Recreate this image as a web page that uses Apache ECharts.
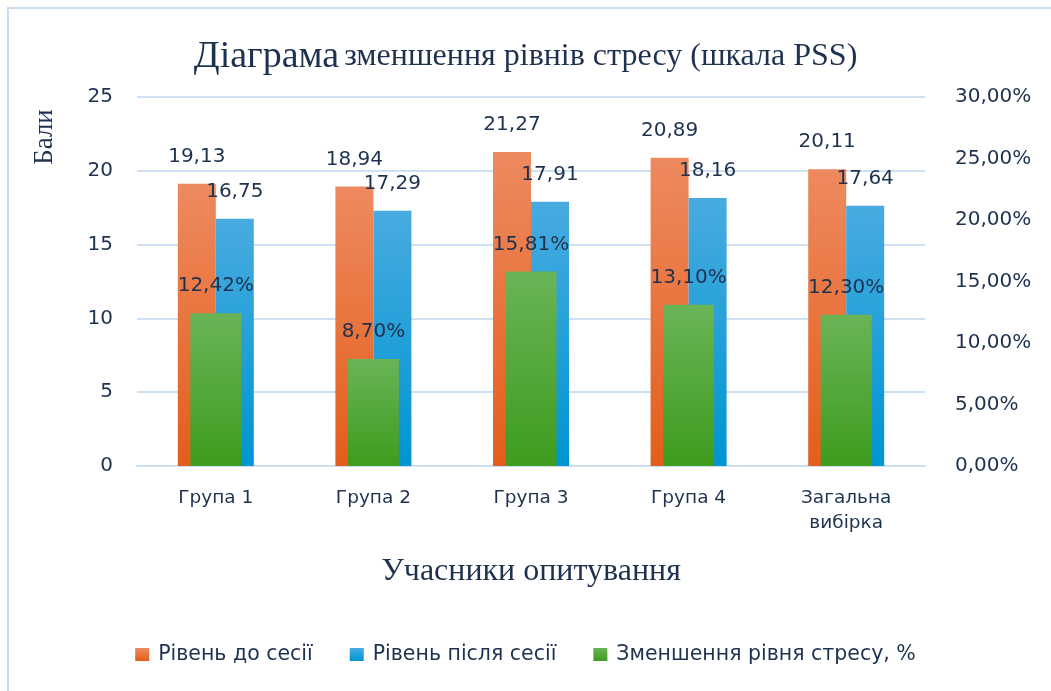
<!DOCTYPE html>
<html>
<head>
<meta charset="utf-8">
<script src="https://cdn.jsdelivr.net/npm/echarts@6/dist/echarts.min.js"></script>
<style>
  html, body { margin: 0; padding: 0; background: #fff; }
  #chart { width: 1051px; height: 691px; }
</style>
</head>
<body>
<div id="chart"></div>
<script>
const categories = ['Група 1', 'Група 2', 'Група 3', 'Група 4', 'Загальна\nвибірка'];
const before = [19.13, 18.94, 21.27, 20.89, 20.11];
const after = [16.75, 17.29, 17.91, 18.16, 17.64];
const reduction = [12.42, 8.70, 15.81, 13.10, 12.30];

const ink = '#1e3250';
const gridColor = '#cfe0f3';
const sans = 'DejaVu Sans';
const serif = 'Liberation Serif';

function grad(top, bottom) {
  return new echarts.graphic.LinearGradient(0, 0, 0, 1, [
    { offset: 0, color: top },
    { offset: 1, color: bottom }
  ]);
}

function comma(v) {
  return v.toFixed(2).replace('.', ',');
}

const chart = echarts.init(document.getElementById('chart'));

const labelStyle = {
  show: true,
  position: 'top',
  distance: 17,
  color: ink,
  fontFamily: sans,
  fontSize: 20
};

const option = {
  animation: false,
  title: {
    text: '{big|Діаграма} {rest|зменшення рівнів стресу (шкала PSS)}',
    left: 'center',
    top: 33,
    textStyle: {
      fontWeight: 'normal',
      rich: {
        big: { fontFamily: serif, fontSize: 38, fontWeight: 'normal', color: ink },
        rest: { fontFamily: serif, fontSize: 32, fontWeight: 'normal', color: ink }
      }
    }
  },
  graphic: [
    {
      type: 'rect',
      shape: { x: 8, y: 8, width: 1060, height: 700 },
      style: { fill: 'none', stroke: '#c9dcf1', lineWidth: 2 }
    },
    {
      type: 'text',
      x: 45,
      y: 137,
      rotation: Math.PI / 2,
      style: {
        text: 'Бали',
        fontFamily: serif,
        fontSize: 27,
        fill: ink,
        align: 'center',
        verticalAlign: 'middle'
      }
    }
  ],
  legend: {
    bottom: 21,
    left: 'center',
    itemWidth: 14,
    itemHeight: 13,
    itemGap: 37,
    icon: 'rect',
    textStyle: { fontFamily: sans, fontSize: 20.5, color: ink, padding: [0, 0, 0, 4] },
    data: ['Рівень до сесії', 'Рівень після сесії', 'Зменшення рівня стресу, %']
  },
  grid: { left: 137, right: 126, top: 97, bottom: 225 },
  xAxis: [
    {
      type: 'category',
      data: categories,
      name: 'Учасники опитування',
      nameLocation: 'middle',
      nameGap: 90,
      nameTextStyle: { fontFamily: serif, fontSize: 32, color: ink },
      axisLine: { lineStyle: { color: gridColor, width: 2 } },
      axisTick: { show: false },
      axisLabel: { color: ink, fontFamily: sans, fontSize: 18.5, margin: 20, lineHeight: 25 }
    },
    {
      type: 'category',
      data: categories,
      show: false
    }
  ],
  yAxis: [
    {
      type: 'value',
      min: 0,
      max: 25,
      interval: 5,
      axisLine: { show: false },
      axisTick: { show: false },
      splitLine: { lineStyle: { color: gridColor, width: 2 } },
      axisLabel: { color: ink, fontFamily: sans, fontSize: 20, margin: 24 }
    },
    {
      type: 'value',
      min: 0,
      max: 30,
      interval: 5,
      axisLine: { show: false },
      axisTick: { show: false },
      splitLine: { show: false },
      axisLabel: {
        color: ink,
        fontFamily: sans,
        fontSize: 20,
        margin: 30,
        formatter: v => comma(v) + '%'
      }
    }
  ],
  series: [
    {
      name: 'Рівень до сесії',
      type: 'bar',
      xAxisIndex: 0,
      yAxisIndex: 0,
      barWidth: 38,
      barGap: '0%',
      itemStyle: { color: grad('#ee8a5f', '#e35e1b') },
      label: Object.assign({}, labelStyle, { formatter: p => comma(p.value) }),
      data: before
    },
    {
      name: 'Рівень після сесії',
      type: 'bar',
      xAxisIndex: 0,
      yAxisIndex: 0,
      barWidth: 38,
      barGap: '0%',
      itemStyle: { color: grad('#48abe0', '#0095d1') },
      label: Object.assign({}, labelStyle, { formatter: p => comma(p.value) }),
      data: after
    },
    {
      name: 'Зменшення рівня стресу, %',
      type: 'bar',
      xAxisIndex: 1,
      yAxisIndex: 1,
      barWidth: 51,
      itemStyle: { color: grad('#6ab457', '#3e9c1e') },
      label: Object.assign({}, labelStyle, { formatter: p => comma(p.value) + '%' }),
      data: reduction
    }
  ]
};

chart.setOption(option);
</script>
</body>
</html>
